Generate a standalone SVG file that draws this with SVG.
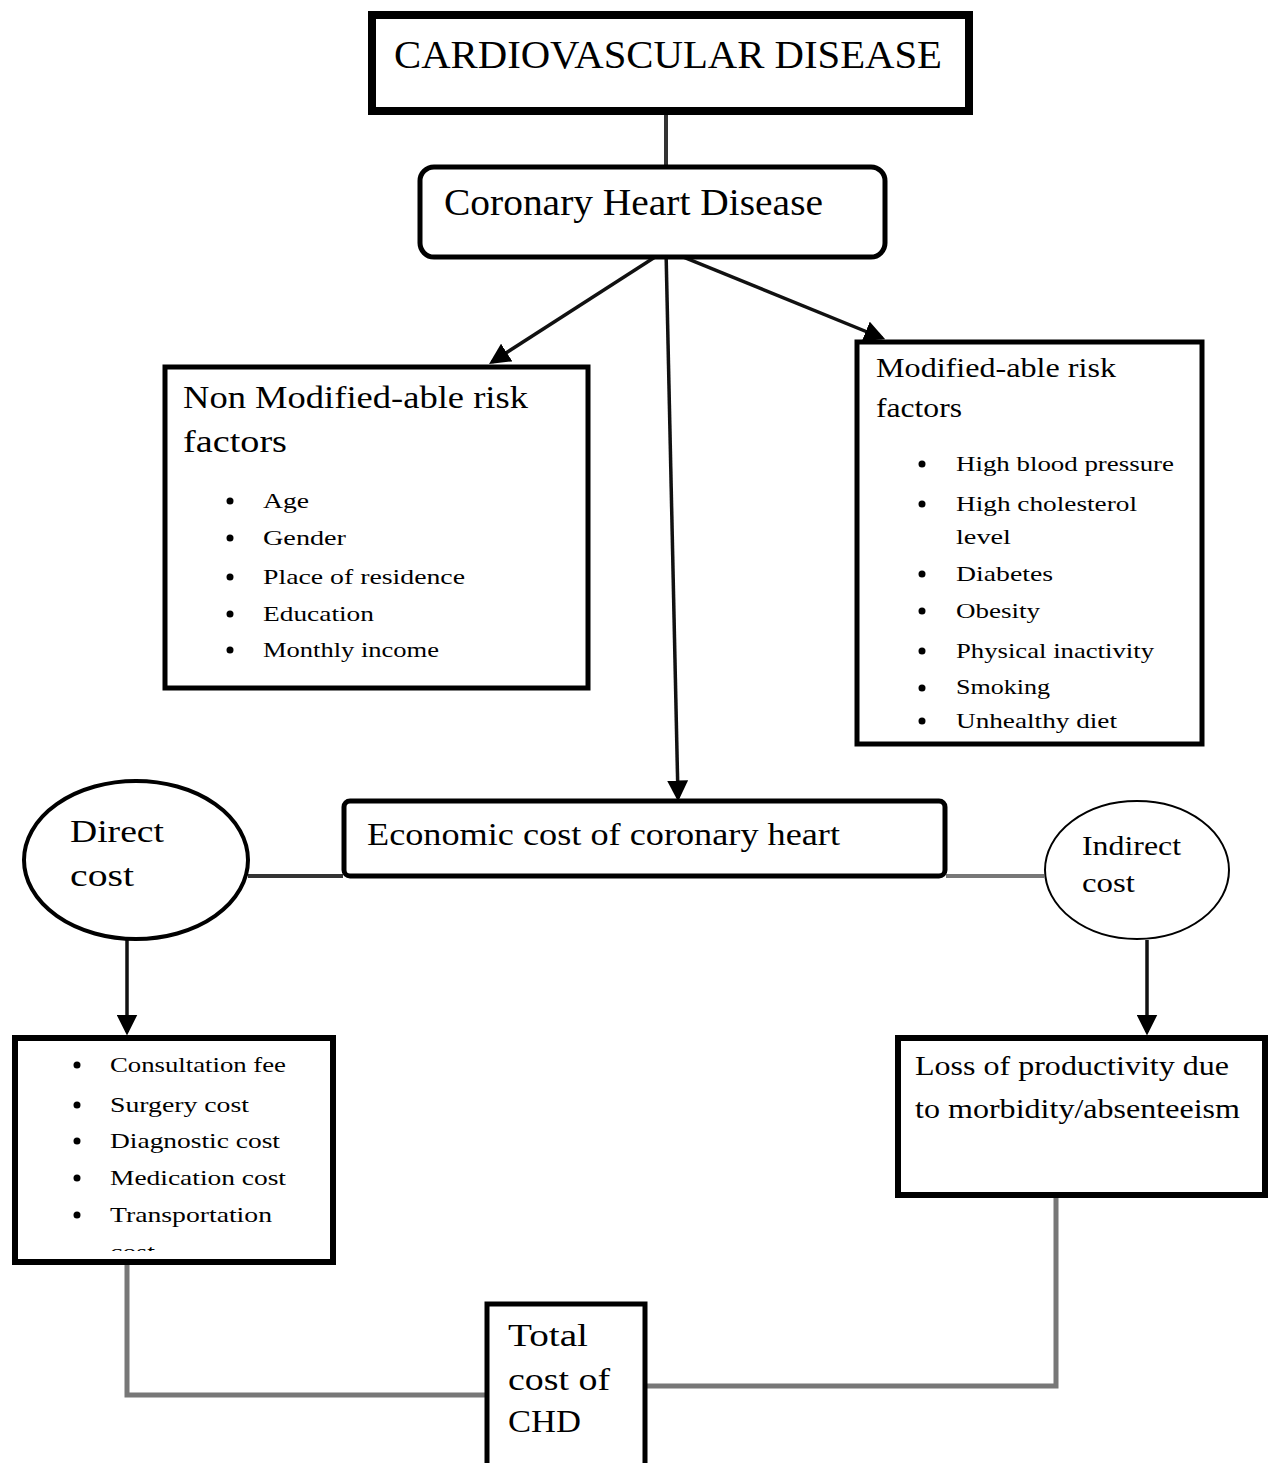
<svg xmlns="http://www.w3.org/2000/svg" width="1269" height="1463" viewBox="0 0 1269 1463">
<style>
text{font-family:"Liberation Serif","Times New Roman",serif;fill:#000}
.box{fill:#fff;stroke:#000}
.conn{fill:none;stroke:#333;stroke-width:4}
.grey{fill:none;stroke:#777;stroke-width:5}
.arr{fill:none;stroke:#111;stroke-width:3.5}
.li{font-size:22px}
</style>
<defs>
<marker id="ah" markerWidth="6" markerHeight="6" refX="5" refY="3" orient="auto" markerUnits="strokeWidth">
<path d="M0,0 L6,3 L0,6 Z" fill="#000"/>
</marker>
<clipPath id="clipDirect"><rect x="15" y="1038" width="318" height="213"/></clipPath>
</defs>
<g id="connectors">
<line class="conn" x1="666" y1="114" x2="666" y2="166"/>
<line class="arr" x1="666" y1="250" x2="492" y2="362" marker-end="url(#ah)"/>
<line class="arr" x1="666" y1="250" x2="678" y2="798" marker-end="url(#ah)"/>
<line class="arr" x1="666" y1="250" x2="882" y2="338" marker-end="url(#ah)"/>
<line class="conn" x1="248" y1="876" x2="343" y2="876" stroke="#555"/>
<line class="grey" x1="946" y1="876" x2="1044" y2="876" style="stroke-width:4"/>
<line class="arr" x1="127" y1="940" x2="127" y2="1032" marker-end="url(#ah)"/>
<line class="arr" x1="1147" y1="940" x2="1147" y2="1032" marker-end="url(#ah)"/>
<polyline class="grey" points="127,1265 127,1395 486,1395"/>
<polyline class="grey" points="1056,1197 1056,1386 647,1386"/>
</g>
<g id="cvd">
<rect class="box" x="372" y="15" width="597" height="96" stroke-width="8"/>
<text x="394" y="68" font-size="40" textLength="548" lengthAdjust="spacingAndGlyphs">CARDIOVASCULAR DISEASE</text>
</g>
<g id="chd">
<rect class="box" x="420" y="167" width="465" height="90" rx="14" stroke-width="5"/>
<text x="444" y="215" font-size="38" textLength="379" lengthAdjust="spacingAndGlyphs">Coronary Heart Disease</text>
</g>
<g id="nonmod">
<rect class="box" x="165" y="367" width="423" height="321" stroke-width="5"/>
<text x="183" y="408" font-size="32" textLength="345" lengthAdjust="spacingAndGlyphs">Non Modified-able risk</text>
<text x="183" y="452" font-size="32" textLength="104" lengthAdjust="spacingAndGlyphs">factors</text>
<g class="li">
<circle cx="230" cy="501" r="3.5"/><text x="263" y="508" textLength="46" lengthAdjust="spacingAndGlyphs">Age</text>
<circle cx="230" cy="538" r="3.5"/><text x="263" y="545" textLength="83" lengthAdjust="spacingAndGlyphs">Gender</text>
<circle cx="230" cy="577" r="3.5"/><text x="263" y="584" textLength="202" lengthAdjust="spacingAndGlyphs">Place of residence</text>
<circle cx="230" cy="614" r="3.5"/><text x="263" y="621" textLength="111" lengthAdjust="spacingAndGlyphs">Education</text>
<circle cx="230" cy="650" r="3.5"/><text x="263" y="657" textLength="176" lengthAdjust="spacingAndGlyphs">Monthly income</text>
</g>
</g>
<g id="mod">
<rect class="box" x="857" y="342" width="345" height="402" stroke-width="5"/>
<text x="876" y="377" font-size="28" textLength="240" lengthAdjust="spacingAndGlyphs">Modified-able risk</text>
<text x="876" y="417" font-size="28" textLength="86" lengthAdjust="spacingAndGlyphs">factors</text>
<g class="li">
<circle cx="922" cy="464" r="3.5"/><text x="956" y="471" textLength="218" lengthAdjust="spacingAndGlyphs">High blood pressure</text>
<circle cx="922" cy="504" r="3.5"/><text x="956" y="511" textLength="181" lengthAdjust="spacingAndGlyphs">High cholesterol</text>
<text x="956" y="544" textLength="55" lengthAdjust="spacingAndGlyphs">level</text>
<circle cx="922" cy="574" r="3.5"/><text x="956" y="581" textLength="97" lengthAdjust="spacingAndGlyphs">Diabetes</text>
<circle cx="922" cy="611" r="3.5"/><text x="956" y="618" textLength="84" lengthAdjust="spacingAndGlyphs">Obesity</text>
<circle cx="922" cy="651" r="3.5"/><text x="956" y="658" textLength="198" lengthAdjust="spacingAndGlyphs">Physical inactivity</text>
<circle cx="922" cy="688" r="3.5"/><text x="956" y="694" textLength="94" lengthAdjust="spacingAndGlyphs">Smoking</text>
<circle cx="922" cy="721" r="3.5"/><text x="956" y="728" textLength="161" lengthAdjust="spacingAndGlyphs">Unhealthy diet</text>
</g>
</g>
<g id="direct">
<ellipse class="box" cx="136" cy="860" rx="112" ry="79" stroke-width="4"/>
<text x="70" y="842" font-size="32" textLength="94" lengthAdjust="spacingAndGlyphs">Direct</text>
<text x="70" y="886" font-size="32" textLength="64" lengthAdjust="spacingAndGlyphs">cost</text>
</g>
<g id="economic">
<rect class="box" x="344" y="801" width="601" height="75" rx="6" stroke-width="5"/>
<text x="367" y="845" font-size="32" textLength="473" lengthAdjust="spacingAndGlyphs">Economic cost of coronary heart</text>
</g>
<g id="indirect">
<ellipse class="box" cx="1137" cy="870" rx="92" ry="69" stroke-width="2"/>
<text x="1082" y="855" font-size="28" textLength="99" lengthAdjust="spacingAndGlyphs">Indirect</text>
<text x="1082" y="892" font-size="28" textLength="53" lengthAdjust="spacingAndGlyphs">cost</text>
</g>
<g id="directlist">
<rect class="box" x="15" y="1038" width="318" height="224" stroke-width="6"/>
<g class="li" clip-path="url(#clipDirect)">
<circle cx="77" cy="1065" r="3.5"/><text x="110" y="1072" textLength="176" lengthAdjust="spacingAndGlyphs">Consultation fee</text>
<circle cx="77" cy="1105" r="3.5"/><text x="110" y="1112" textLength="139" lengthAdjust="spacingAndGlyphs">Surgery cost</text>
<circle cx="77" cy="1141" r="3.5"/><text x="110" y="1148" textLength="170" lengthAdjust="spacingAndGlyphs">Diagnostic cost</text>
<circle cx="77" cy="1178" r="3.5"/><text x="110" y="1185" textLength="176" lengthAdjust="spacingAndGlyphs">Medication cost</text>
<circle cx="77" cy="1215" r="3.5"/><text x="110" y="1222" textLength="162" lengthAdjust="spacingAndGlyphs">Transportation</text>
<text x="110" y="1259" textLength="45" lengthAdjust="spacingAndGlyphs">cost</text>
</g>
</g>
<g id="loss">
<rect class="box" x="898" y="1038" width="367" height="157" stroke-width="6"/>
<text x="915" y="1075" font-size="28" textLength="314" lengthAdjust="spacingAndGlyphs">Loss of productivity due</text>
<text x="915" y="1118" font-size="28" textLength="325" lengthAdjust="spacingAndGlyphs">to morbidity/absenteeism</text>
</g>
<g id="total">
<rect class="box" x="487" y="1304" width="158" height="170" stroke-width="5"/>
<text x="508" y="1346" font-size="32" textLength="80" lengthAdjust="spacingAndGlyphs">Total</text>
<text x="508" y="1390" font-size="32" textLength="102" lengthAdjust="spacingAndGlyphs">cost of</text>
<text x="508" y="1432" font-size="32" textLength="73" lengthAdjust="spacingAndGlyphs">CHD</text>
</g>
</svg>
